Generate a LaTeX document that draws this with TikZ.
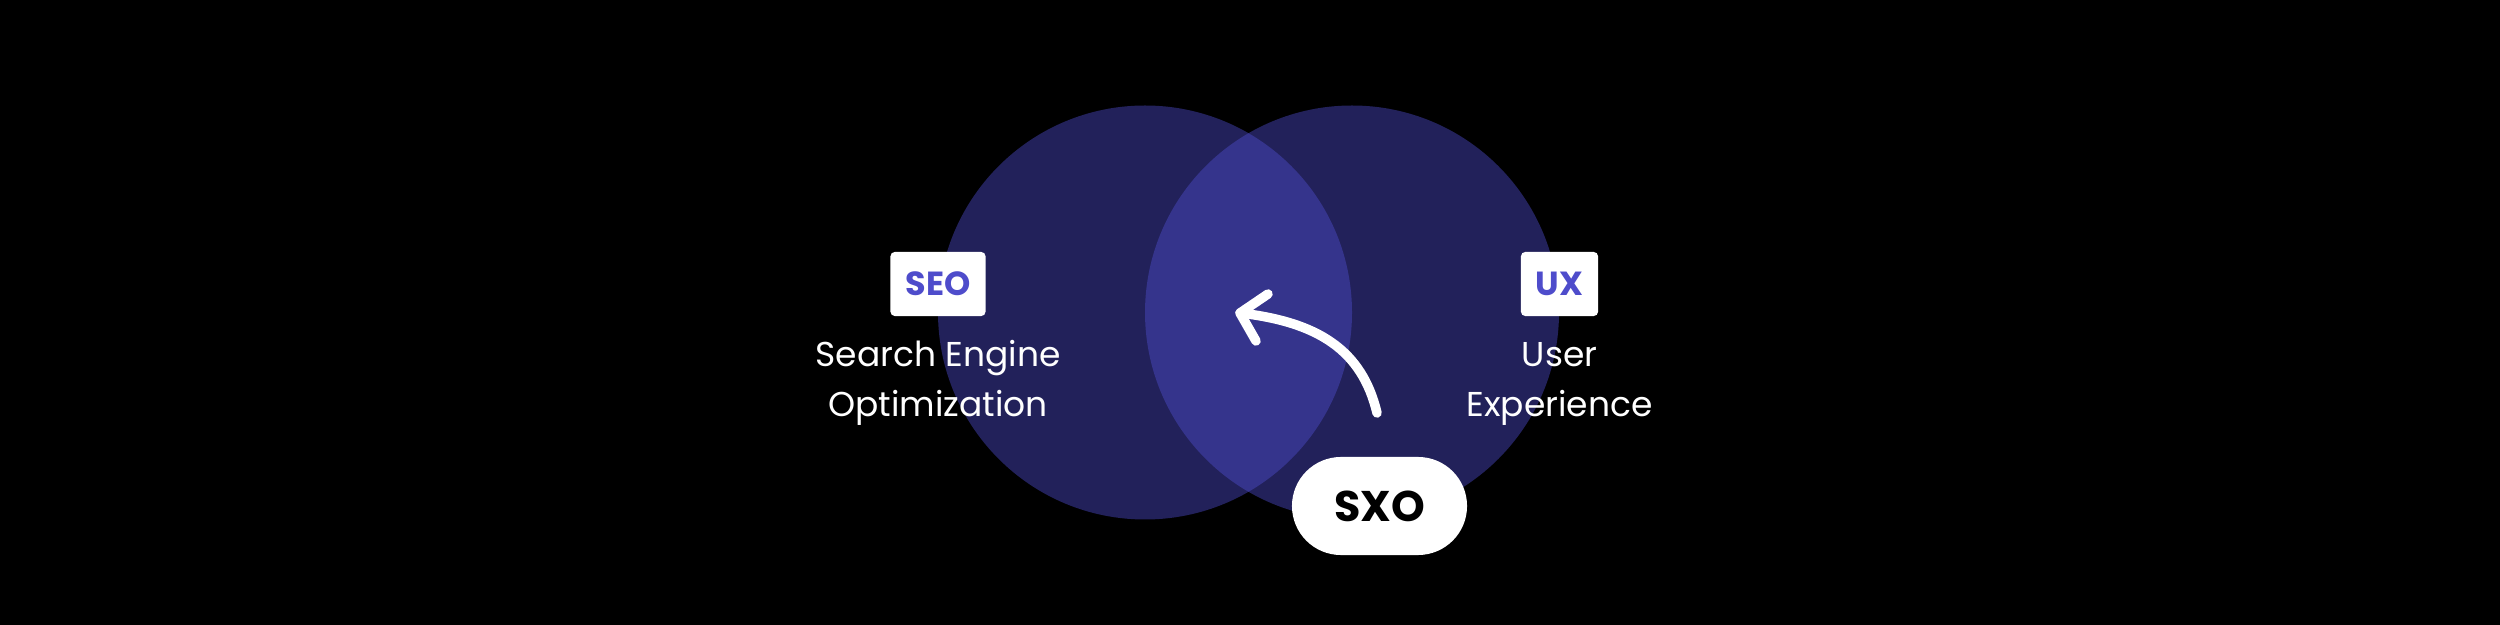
\documentclass[tikz,border=0pt]{standalone}
\usepackage{fontspec}
\setmainfont{Poppins}

\definecolor{circblue}{HTML}{22215A}
\definecolor{lensblue}{HTML}{35348C}
\definecolor{tagblue}{HTML}{4E4CCB}

\tikzset{
    tagbox/.style={fill=white, rounded corners=1.2pt, minimum height=0.64cm, inner sep=0pt, text=tagblue, font=\fontsize{9.5}{11}\selectfont\bfseries},
    caption/.style={text=white, inner sep=0pt, anchor=base, font=\fontsize{9.8}{12}\selectfont},
    pill/.style={fill=white, rounded corners=0.49cm, minimum width=1.75cm, minimum height=0.98cm, inner sep=0pt, font=\fontsize{12.2}{14}\selectfont\bfseries},
    bent/.style={white, line width=2.7pt, line cap=round, line join=round}
}

\begin{document}
\begin{tikzpicture}[x=0.01cm,y=-0.01cm]
    \fill[black] (0,0) rectangle (2500,625);
    % the two sets
    \fill[circblue] (1145,312.5) circle (207);
    \fill[circblue] (1352,312.5) circle (207);
    \begin{scope}
        \clip (1145,312.5) circle (207);
        \fill[lensblue] (1352,312.5) circle (207);
    \end{scope}
    % left set
    \node[tagbox, minimum width=0.95cm] (seo) at (938,284) {SEO};
    \node[caption] (seotop) at (938,367) {Search Engine};
    \node[caption] (seobot) at (938,417) {Optimization};
    % right set
    \node[tagbox, minimum width=0.77cm] (ux) at (1559.5,284) {UX};
    \node[caption] (uxtop) at (1559.5,367) {User};
    \node[caption] (uxbot) at (1559.5,417) {Experience};
    % overlap
    \node[pill] (sxo) at (1379.5,506) {SXO};
    \coordinate (tail) at (1377,413);
    \coordinate (tip) at (1240,313);
    \draw[bent] (tail) .. controls (1362,350) and (1318,322) .. (tip);
    \draw[bent] (1268,294) -- (tip) -- (1256,341);
\end{tikzpicture}
\end{document}
